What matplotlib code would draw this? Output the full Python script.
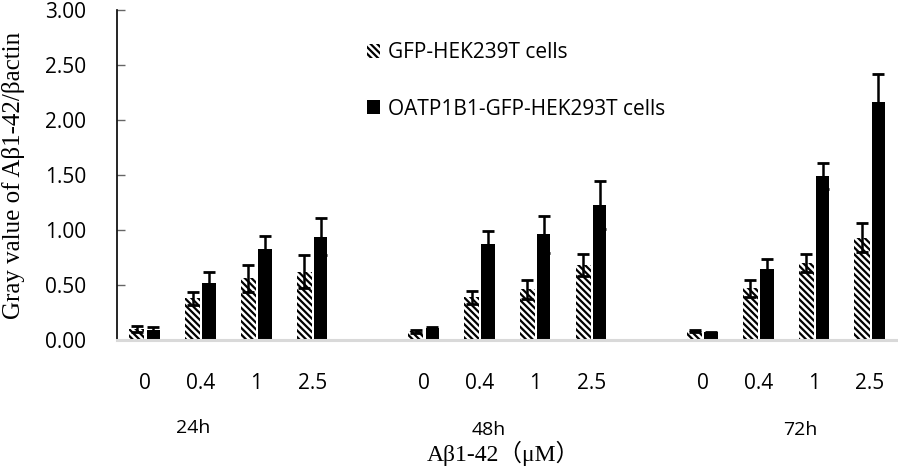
import numpy as np
import matplotlib
matplotlib.use("Agg")
import matplotlib.pyplot as plt
from matplotlib.patches import Patch

# concentrations (uM); empty strings are the gaps between time groups
doses = ['0', '0.4', '1', '2.5', '', '0', '0.4', '1', '2.5', '', '0', '0.4', '1', '2.5']
times = ['24h', '48h', '72h']

nan = np.nan
gfp = [0.10, 0.38, 0.56, 0.62, nan, 0.08, 0.39, 0.46, 0.68, nan, 0.08, 0.47, 0.70, 0.93]
gfp_err = [0.03, 0.06, 0.12, 0.15, nan, 0.015, 0.06, 0.09, 0.10, nan, 0.01, 0.08, 0.08, 0.13]
oatp = [0.09, 0.52, 0.83, 0.94, nan, 0.11, 0.87, 0.96, 1.23, nan, 0.07, 0.65, 1.49, 2.16]
oatp_err = [0.03, 0.10, 0.12, 0.17, nan, 0.01, 0.12, 0.17, 0.22, nan, 0.005, 0.09, 0.12, 0.26]

sans = ['Open Sans', 'DejaVu Sans']
serif = ['Liberation Serif', 'Noto Sans CJK SC', 'DejaVu Serif']
plt.rcParams['hatch.linewidth'] = 1.6
hatch = '\\\\\\\\\\'

fig = plt.figure(figsize=(8.98, 4.74), dpi=100)
ax = fig.add_axes([0.1303, 0.2827, 0.8697, 0.6962])

x = np.arange(len(doses))
ax.bar(x - 0.145, gfp, 0.27, color='white', edgecolor='black', hatch=hatch, linewidth=0)
ax.errorbar(x - 0.145, gfp, yerr=gfp_err, fmt='none', ecolor='black', elinewidth=1.8, capsize=4, capthick=2)
ax.bar(x + 0.15, oatp, 0.24, color='black')
ax.errorbar(x + 0.15, oatp, yerr=oatp_err, fmt='none', ecolor='black', elinewidth=1.8, capsize=4, capthick=2)

ax.set_xlim(-0.5, len(doses) - 0.5)
ax.set_ylim(0, 3)
yt = np.arange(0, 3.01, 0.5)
ax.set_yticks(yt)
ax.set_yticklabels(['%.2f' % v for v in yt], fontsize=15, family=sans)
ax.tick_params(axis='y', direction='in', length=6, width=1, color='#666666', pad=22)
ax.set_xticks(x)
ax.set_xticklabels(doses, fontsize=15, family=sans)
ax.tick_params(axis='x', length=0, pad=24)

for s in ['top', 'right']:
    ax.spines[s].set_visible(False)
ax.spines['left'].set_linewidth(1.2)
ax.spines['bottom'].set_color('#d9d9d9')
ax.spines['bottom'].set_linewidth(2.2)

ax.set_ylabel('Gray value of Aβ1-42/βactin', fontsize=18, family=serif)
ax.yaxis.set_label_coords(-0.118, 0.5)

# time group labels under the dose labels
for xpos, ypos, t in zip([0.86, 6.17, 11.74], [-0.267, -0.272, -0.273], times):
    ax.text(xpos, ypos, t, transform=ax.get_xaxis_transform(), ha='center', va='center',
            fontsize=14, family=sans)
fig.text(0.560, 0.028, 'Aβ1-42（μM）', ha='center', va='baseline', fontsize=17, family=serif)

handles = [Patch(facecolor='white', edgecolor='black', hatch=hatch, linewidth=0),
           Patch(facecolor='black')]
ax.legend(handles, ['GFP-HEK239T cells', 'OATP1B1-GFP-HEK293T cells'], loc='upper left',
          bbox_to_anchor=(0.296, 0.96), frameon=False, prop={'family': sans, 'size': 15},
          handlelength=0.65, handleheight=0.65, handletextpad=0.35, labelspacing=1.71)

fig.savefig('out.png', dpi=100)
